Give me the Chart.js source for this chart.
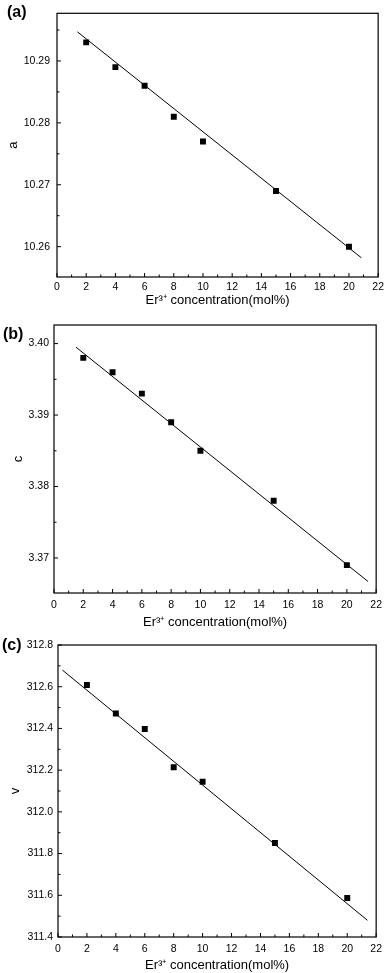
<!DOCTYPE html>
<html>
<head>
<meta charset="utf-8">
<script src="https://cdn.jsdelivr.net/npm/chart.js@4.4.1/dist/chart.umd.min.js"></script>
<style>
    html, body { margin: 0; padding: 0; background: #fff; }
    body { width: 388px; height: 973px; position: relative; overflow: hidden; }
    .panel { position: absolute; left: 0; width: 388px; }
    .tag { position: absolute; font: bold 16px/18px "Liberation Sans", Arial, sans-serif; color: #000; }
</style>
</head>
<body>

<canvas id="chartA" class="panel" style="top:0px"></canvas>
<canvas id="chartB" class="panel" style="top:310px"></canvas>
<canvas id="chartC" class="panel" style="top:630px"></canvas>

<div class="tag" style="left:7px; top:3px">(a)</div>
<div class="tag" style="left:3px; top:325px">(b)</div>
<div class="tag" style="left:2px; top:636px">(c)</div>

<script>

// concentration of Er3+ (mol%)
const conc = [2, 4, 6, 8, 10, 15, 20];

// lattice parameters
const aValues = [10.293, 10.289, 10.286, 10.281, 10.277, 10.269, 10.260];
const cValues = [3.398, 3.396, 3.393, 3.389, 3.385, 3.378, 3.369];
const vValues = [312.608, 312.472, 312.397, 312.214, 312.144, 311.851, 311.587];

// fitted line endpoints [x, y]
const aFit = [[1.4, 10.2947], [20.85, 10.2582]];
const cFit = [[1.5, 3.3995], [21.45, 3.3667]];
const vFit = [[0.3, 312.68], [21.4, 311.48]];

// tick labels
const xTicks = [0, 2, 4, 6, 8, 10, 12, 14, 16, 18, 20, 22];
const aTicks = [10.26, 10.27, 10.28, 10.29];
const cTicks = [3.37, 3.38, 3.39, 3.40];
const vTicks = [311.4, 311.6, 311.8, 312.0, 312.2, 312.4, 312.6, 312.8];

const xTitle = "Er³⁺ concentration(mol%)";
const FONT = "'Liberation Sans', Arial, sans-serif";

// box around plot + inward ticks (major and minor)
const frameAndTicks = {
    id: "frameAndTicks",
    afterDraw(chart) {
        const ctx = chart.ctx;
        const area = chart.chartArea;
        const xs = chart.scales.x;
        const ys = chart.scales.y;

        ctx.save();
        ctx.strokeStyle = "#000";
        ctx.lineWidth = 1.2;
        ctx.strokeRect(area.left, area.top, area.right - area.left, area.bottom - area.top);

        ctx.lineWidth = 1;
        ctx.beginPath();

        const xt = xs.ticks.map(t => t.value);
        for (let i = 0; i < xt.length; i++) {
            const px = xs.getPixelForValue(xt[i]);
            ctx.moveTo(px, area.bottom);
            ctx.lineTo(px, area.bottom - 4);
            if (i < xt.length - 1) {
                const mx = xs.getPixelForValue((xt[i] + xt[i + 1]) / 2);
                ctx.moveTo(mx, area.bottom);
                ctx.lineTo(mx, area.bottom - 2.5);
            }
        }

        const yt = ys.ticks.map(t => t.value);
        for (let i = 0; i < yt.length; i++) {
            const py = ys.getPixelForValue(yt[i]);
            ctx.moveTo(area.left, py);
            ctx.lineTo(area.left + 4, py);
        }
        const step = yt[1] - yt[0];
        for (let v = yt[0] - step / 2; v <= ys.max + 1e-9; v += step) {
            if (v < ys.min) continue;
            const py = ys.getPixelForValue(v);
            ctx.moveTo(area.left, py);
            ctx.lineTo(area.left + 2.5, py);
        }
        ctx.stroke();
        ctx.restore();
    }
};

function makePanel(id, opts) {

    const canvas = document.getElementById(id);
    canvas.width = 388;
    canvas.height = opts.height;
    canvas.style.width = "388px";
    canvas.style.height = opts.height + "px";

    const points = conc.map((x, i) => ({ x: x, y: opts.values[i] }));
    const fit = opts.fit.map(p => ({ x: p[0], y: p[1] }));

    new Chart(canvas, {

        type: "scatter",

        data: {
            datasets: [
                {
                    data: fit,
                    showLine: true,
                    borderColor: "#000",
                    borderWidth: 1,
                    pointRadius: 0
                },
                {
                    data: points,
                    pointStyle: "rect",
                    pointRadius: 4.2,
                    backgroundColor: "#000",
                    borderColor: "#000",
                    borderWidth: 0
                }
            ]
        },

        options: {

            responsive: false,
            animation: false,
            events: [],

            layout: {
                padding: { top: opts.areaTop, right: 388 - opts.areaRight, left: 0, bottom: 0 }
            },

            plugins: {
                legend: { display: false },
                tooltip: { enabled: false }
            },

            scales: {
                x: {
                    type: "linear",
                    min: 0,
                    max: 22,
                    afterBuildTicks: s => { s.ticks = xTicks.map(v => ({ value: v })); },
                    afterFit: s => { s.height = opts.height - opts.areaBottom; },
                    grid: { display: false, drawTicks: false },
                    border: { display: false },
                    ticks: {
                        color: "#000",
                        padding: opts.xTickPad,
                        maxRotation: 0,
                        font: { family: FONT, size: 10.5 }
                    },
                    title: {
                        display: true,
                        text: xTitle,
                        color: "#000",
                        padding: { top: 0, bottom: opts.xTitlePad },
                        font: { family: FONT, size: 13 }
                    }
                },
                y: {
                    type: "linear",
                    min: opts.yMin,
                    max: opts.yMax,
                    afterBuildTicks: s => { s.ticks = opts.yTicks.map(v => ({ value: v })); },
                    afterFit: s => { s.width = opts.areaLeft; },
                    grid: { display: false, drawTicks: false },
                    border: { display: false },
                    ticks: {
                        color: "#000",
                        padding: opts.yTickPad,
                        font: { family: FONT, size: 10.5 },
                        callback: v => v.toFixed(opts.digits)
                    },
                    title: {
                        display: true,
                        text: opts.yLabel,
                        color: "#000",
                        padding: { top: opts.yTitlePad, bottom: 0 },
                        font: { family: FONT, size: 13 }
                    }
                }
            }
        },

        plugins: [frameAndTicks]

    });
}

makePanel("chartA", {
    height: 310, areaTop: 3, areaBottom: 277, areaLeft: 57, areaRight: 381,
    values: aValues, fit: aFit, yTicks: aTicks, yMin: 10.2551, yMax: 10.2977,
    digits: 2, yLabel: "a", xTickPad: 4, xTitlePad: 2, yTickPad: 7, yTitlePad: 6
});

makePanel("chartB", {
    height: 320, areaTop: 15, areaBottom: 283, areaLeft: 54, areaRight: 380,
    values: cValues, fit: cFit, yTicks: cTicks, yMin: 3.3651, yMax: 3.4026,
    digits: 2, yLabel: "c", xTickPad: 6, xTitlePad: 0, yTickPad: 5, yTitlePad: 11
});

makePanel("chartC", {
    height: 343, areaTop: 15, areaBottom: 307, areaLeft: 58, areaRight: 381,
    values: vValues, fit: vFit, yTicks: vTicks, yMin: 311.4, yMax: 312.8,
    digits: 1, yLabel: "v", xTickPad: 6, xTitlePad: 0, yTickPad: 5, yTitlePad: 8
});

</script>
</body>
</html>
